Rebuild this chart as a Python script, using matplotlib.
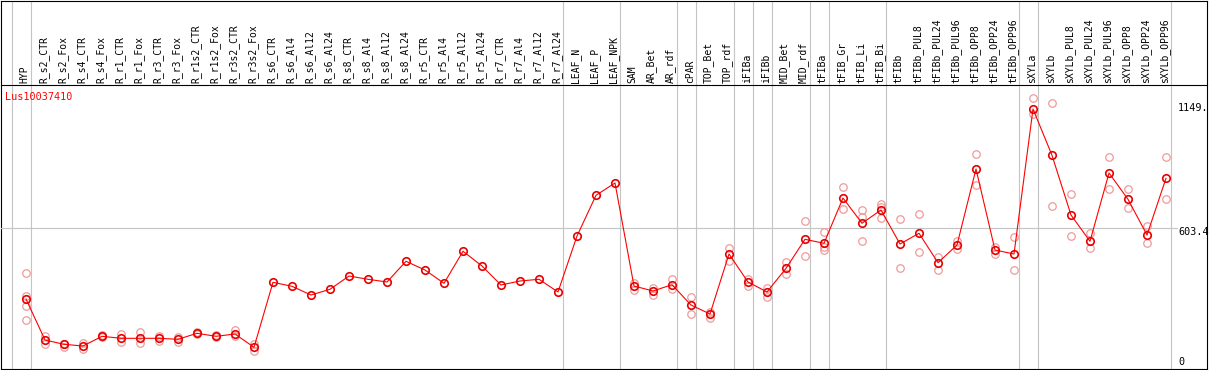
import matplotlib
matplotlib.use('Agg')
import matplotlib.pyplot as plt

categories = [
    "HYP", "R_s2_CTR", "R_s2_Fox", "R_s4_CTR", "R_s4_Fox", "R_r1_CTR", "R_r1_Fox",
    "R_r3_CTR", "R_r3_Fox", "R_r1s2_CTR", "R_r1s2_Fox", "R_r3s2_CTR", "R_r3s2_Fox",
    "R_s6_CTR", "R_s6_Al4", "R_s6_Al12", "R_s6_Al24", "R_s8_CTR", "R_s8_Al4",
    "R_s8_Al12", "R_s8_Al24", "R_r5_CTR", "R_r5_Al4", "R_r5_Al12", "R_r5_Al24",
    "R_r7_CTR", "R_r7_Al4", "R_r7_Al12", "R_r7_Al24", "LEAF_N", "LEAF_P", "LEAF_NPK",
    "SAM", "AR_Bet", "AR_rdf", "cPAR", "TOP_Bet", "TOP_rdf", "iFIBa", "iFIBb",
    "MID_Bet", "MID_rdf", "tFIBa", "tFIB_Gr", "tFIB_Li", "tFIB_Bi", "tFIBb",
    "tFIBb_PUL8", "tFIBb_PUL24", "tFIBb_PUL96", "tFIBb_OPP8", "tFIBb_OPP24",
    "tFIBb_OPP96", "sXYLa", "sXYLb", "sXYLb_PUL8", "sXYLb_PUL24", "sXYLb_PUL96",
    "sXYLb_OPP8", "sXYLb_OPP24", "sXYLb_OPP96",
]

means = [
    297.4, 120.7, 102.1, 94.8, 136.6, 128.0, 128.0, 128.0, 123.7, 149.6, 136.6, 146.5, 89.2,
    369.4, 352.1, 314.6, 339.2, 396.5, 382.3, 370.7, 459.9, 422.4, 365.1, 503.0, 439.6,
    357.7, 375.0, 382.3, 327.6, 568.9, 744.3, 797.4,
    353.4, 331.9, 359.0, 271.5, 232.7, 491.3, 370.7, 327.6, 429.7, 554.7,
    537.5, 732.7, 623.7, 681.0, 534.4, 580.6, 453.8, 530.1, 857.7, 508.6, 491.3,
    1116.3, 916.7, 659.4, 546.1, 840.5, 727.1, 573.2, 817.6,
]

replicates = [
    [408.2, 311.6, 268.5, 205.6],
    [137.9, 103.4], [103.4, 91.8], [106.5, 80.6], [142.2, 132.3],
    [145.2, 112.1], [153.9, 109.0], [136.6, 115.1], [132.3, 110.8],
    [156.5, 145.2], [142.2, 131.5], [163.8, 139.2], [103.4, 72.0],
    [], [], [], [], [], [], [], [], [], [], [], [], [], [], [], [],
    [], [], [],
    [365.1, 336.2], [346.1, 315.9], [384.9, 340.5], [304.7, 232.7],
    [242.7, 214.2], [515.9, 462.5], [382.3, 353.4], [344.8, 307.3],
    [458.2, 403.8], [633.6, 481.4],
    [584.9, 522.8, 508.6], [778.8, 684.0], [679.7, 652.1, 546.1],
    [706.8, 695.2, 645.2], [640.9, 429.7], [662.4, 498.7], [479.7, 422.4],
    [548.7, 511.6], [921.0, 788.7], [522.8, 490.0], [564.6, 421.1],
    [1162.4, 1094.7], [1140.9, 696.9], [748.6, 568.9], [583.1, 515.9],
    [908.1, 770.2], [771.5, 688.3], [612.0, 537.5], [908.1, 727.1],
]

group_ends = [-1, 0, 28, 31, 34, 35, 37, 38, 39, 41, 42, 45, 52, 53, 60]
gene = "Lus10037410"
axis_labels = ["1149.", "603.4", "0"]
mid_value = 603.4

# ---------------- layout (pixels) ----------------
W, H = 1209, 370
fig = plt.figure(figsize=(W / 100, H / 100), dpi=100)

def fx(px):
    return px / W

def fy(py):
    return 1 - py / H

x0_px, step_px = 26, 19
left_px, right_px = 1, 1207
top_px, header_px, bottom_px = 0.5, 85, 369
zero_px, mid_px = 368, 228
scale = mid_value / (zero_px - mid_px)
xlim = ((left_px - x0_px) / step_px, (right_px - x0_px) / step_px)
ylim = ((zero_px - bottom_px) * scale, (zero_px - header_px) * scale)

mono = "DejaVu Sans Mono"
grid_c = "#c4c4c4"

# background axes (whole frame, vertical separators)
bg = fig.add_axes([fx(left_px), fy(bottom_px), (right_px - left_px) / W,
                   (bottom_px - top_px) / H])
bg.set_xlim(xlim)
bg.set_ylim(0, 1)
bg.set_xticks([])
bg.set_yticks([])
for s in bg.spines.values():
    s.set_color("black")
    s.set_linewidth(0.8)
for g in group_ends:
    bg.axvline(g + 0.24, color=grid_c, lw=0.8, zorder=0)

# header labels
label_y = (bottom_px - 83) / (bottom_px - top_px)
for i, c in enumerate(categories):
    bg.text(i - 0.07, label_y, c, rotation=90, ha="center", va="bottom",
            fontsize=7, family=mono, color="black")

# plot axes
ax = fig.add_axes([fx(left_px), fy(bottom_px), (right_px - left_px) / W,
                   (bottom_px - header_px) / H])
ax.patch.set_alpha(0)
ax.set_xlim(xlim)
ax.set_ylim(ylim)
ax.set_xticks([])
ax.set_yticks([])
for s in ax.spines.values():
    s.set_visible(False)
ax.spines["top"].set_visible(True)
ax.spines["top"].set_color("black")
ax.spines["top"].set_linewidth(0.8)

ax.axhline(mid_value, xmin=0, xmax=(1177 - left_px) / (right_px - left_px),
           color=grid_c, lw=0.8, zorder=1)

ms = 5.4
for i, reps in enumerate(replicates):
    if reps:
        ax.plot([i] * len(reps), reps, linestyle="none", marker="o", ms=ms,
                mfc="none", mec="#ef9a9a", mew=0.9, zorder=2)

xs = list(range(len(categories)))
ax.plot(xs, means, color="#ff0000", lw=0.8, marker="o", ms=ms,
        mfc="none", mec="#e60000", mew=1.2, zorder=3)

# texts
fig.text(fx(5), fy(97), gene, color="red", fontsize=7.3, family=mono,
         ha="left", va="center")
for lab, py in zip(axis_labels, [107.7, 231.7, 361.7]):
    fig.text(fx(1178), fy(py), lab, color="black", fontsize=7.3, family=mono,
             ha="left", va="center")

fig.savefig("out.png", dpi=100)
